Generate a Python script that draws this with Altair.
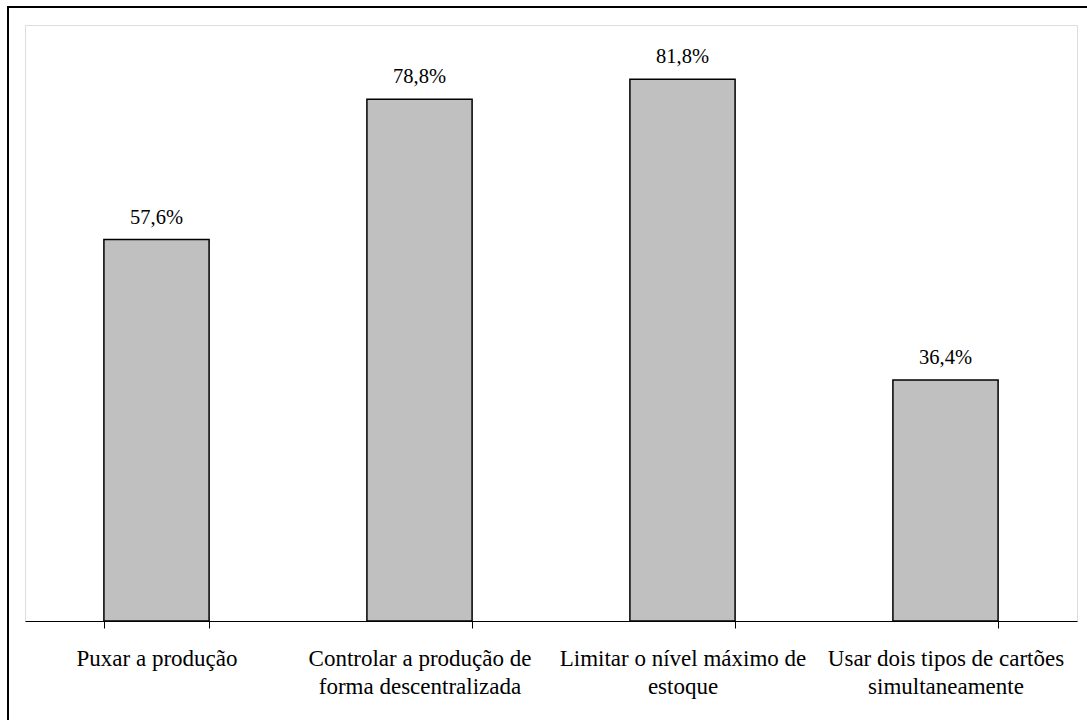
import altair as alt
import pandas as pd

# Funções do kanban e percentual de respostas
label_lines = [
    ["Puxar a produção"],
    ["Controlar a produção de", "forma descentralizada"],
    ["Limitar o nível máximo de", "estoque"],
    ["Usar dois tipos de cartões", "simultaneamente"],
]
percentages = [57.6, 78.8, 81.8, 36.4]
value_labels = ["57,6%", "78,8%", "81,8%", "36,4%"]

categories = ["\n".join(lines) for lines in label_lines]

df = pd.DataFrame({
    "funcao": categories,
    "pct": percentages,
    "rotulo": value_labels,
})

W, H = 1052, 596
FONT = "Liberation Serif"

x_enc = alt.X(
    "funcao:N",
    sort=categories,
    title=None,
    scale=alt.Scale(paddingInner=0.6, paddingOuter=0.3),
    axis=alt.Axis(
        labelExpr="split(datum.label, '\\n')",
        labelAngle=0,
        labelFont=FONT,
        labelFontSize=23,
        labelColor="black",
        labelLineHeight=28,
        labelPadding=19,
        labelLimit=400,
        domainColor="black",
        domainWidth=1,
        tickColor="black",
        tickSize=7,
        tickBand="extent",
        grid=False,
    ),
)
y_enc = alt.Y("pct:Q", scale=alt.Scale(domain=[0, 90], nice=False), axis=None)

bars = alt.Chart(df).mark_bar(
    color="#C0C0C0", stroke="black", strokeWidth=1.5
).encode(x=x_enc, y=y_enc)

texts = alt.Chart(df).mark_text(
    baseline="bottom", dy=-12, font=FONT, fontSize=20.5, color="black"
).encode(x=alt.X("funcao:N", sort=categories), y="pct:Q", text="rotulo:N")

# Moldura externa da figura
frame = alt.Chart(pd.DataFrame({"k": [0]})).mark_rect(
    fill=None, stroke="black", strokeWidth=2
).encode(
    x=alt.value(-17), x2=alt.value(W + 40),
    y=alt.value(-18), y2=alt.value(H + 140),
)

chart = alt.layer(frame, bars, texts).properties(
    width=W, height=H,
    autosize=alt.AutoSizeParams(type="none"),
    padding={"left": 25, "top": 25, "right": 10, "bottom": 99},
).configure_view(
    stroke="#808080", strokeWidth=2
).configure(background="white", font=FONT)

chart.save("out.html", embed_options={"renderer": "svg", "actions": False})
